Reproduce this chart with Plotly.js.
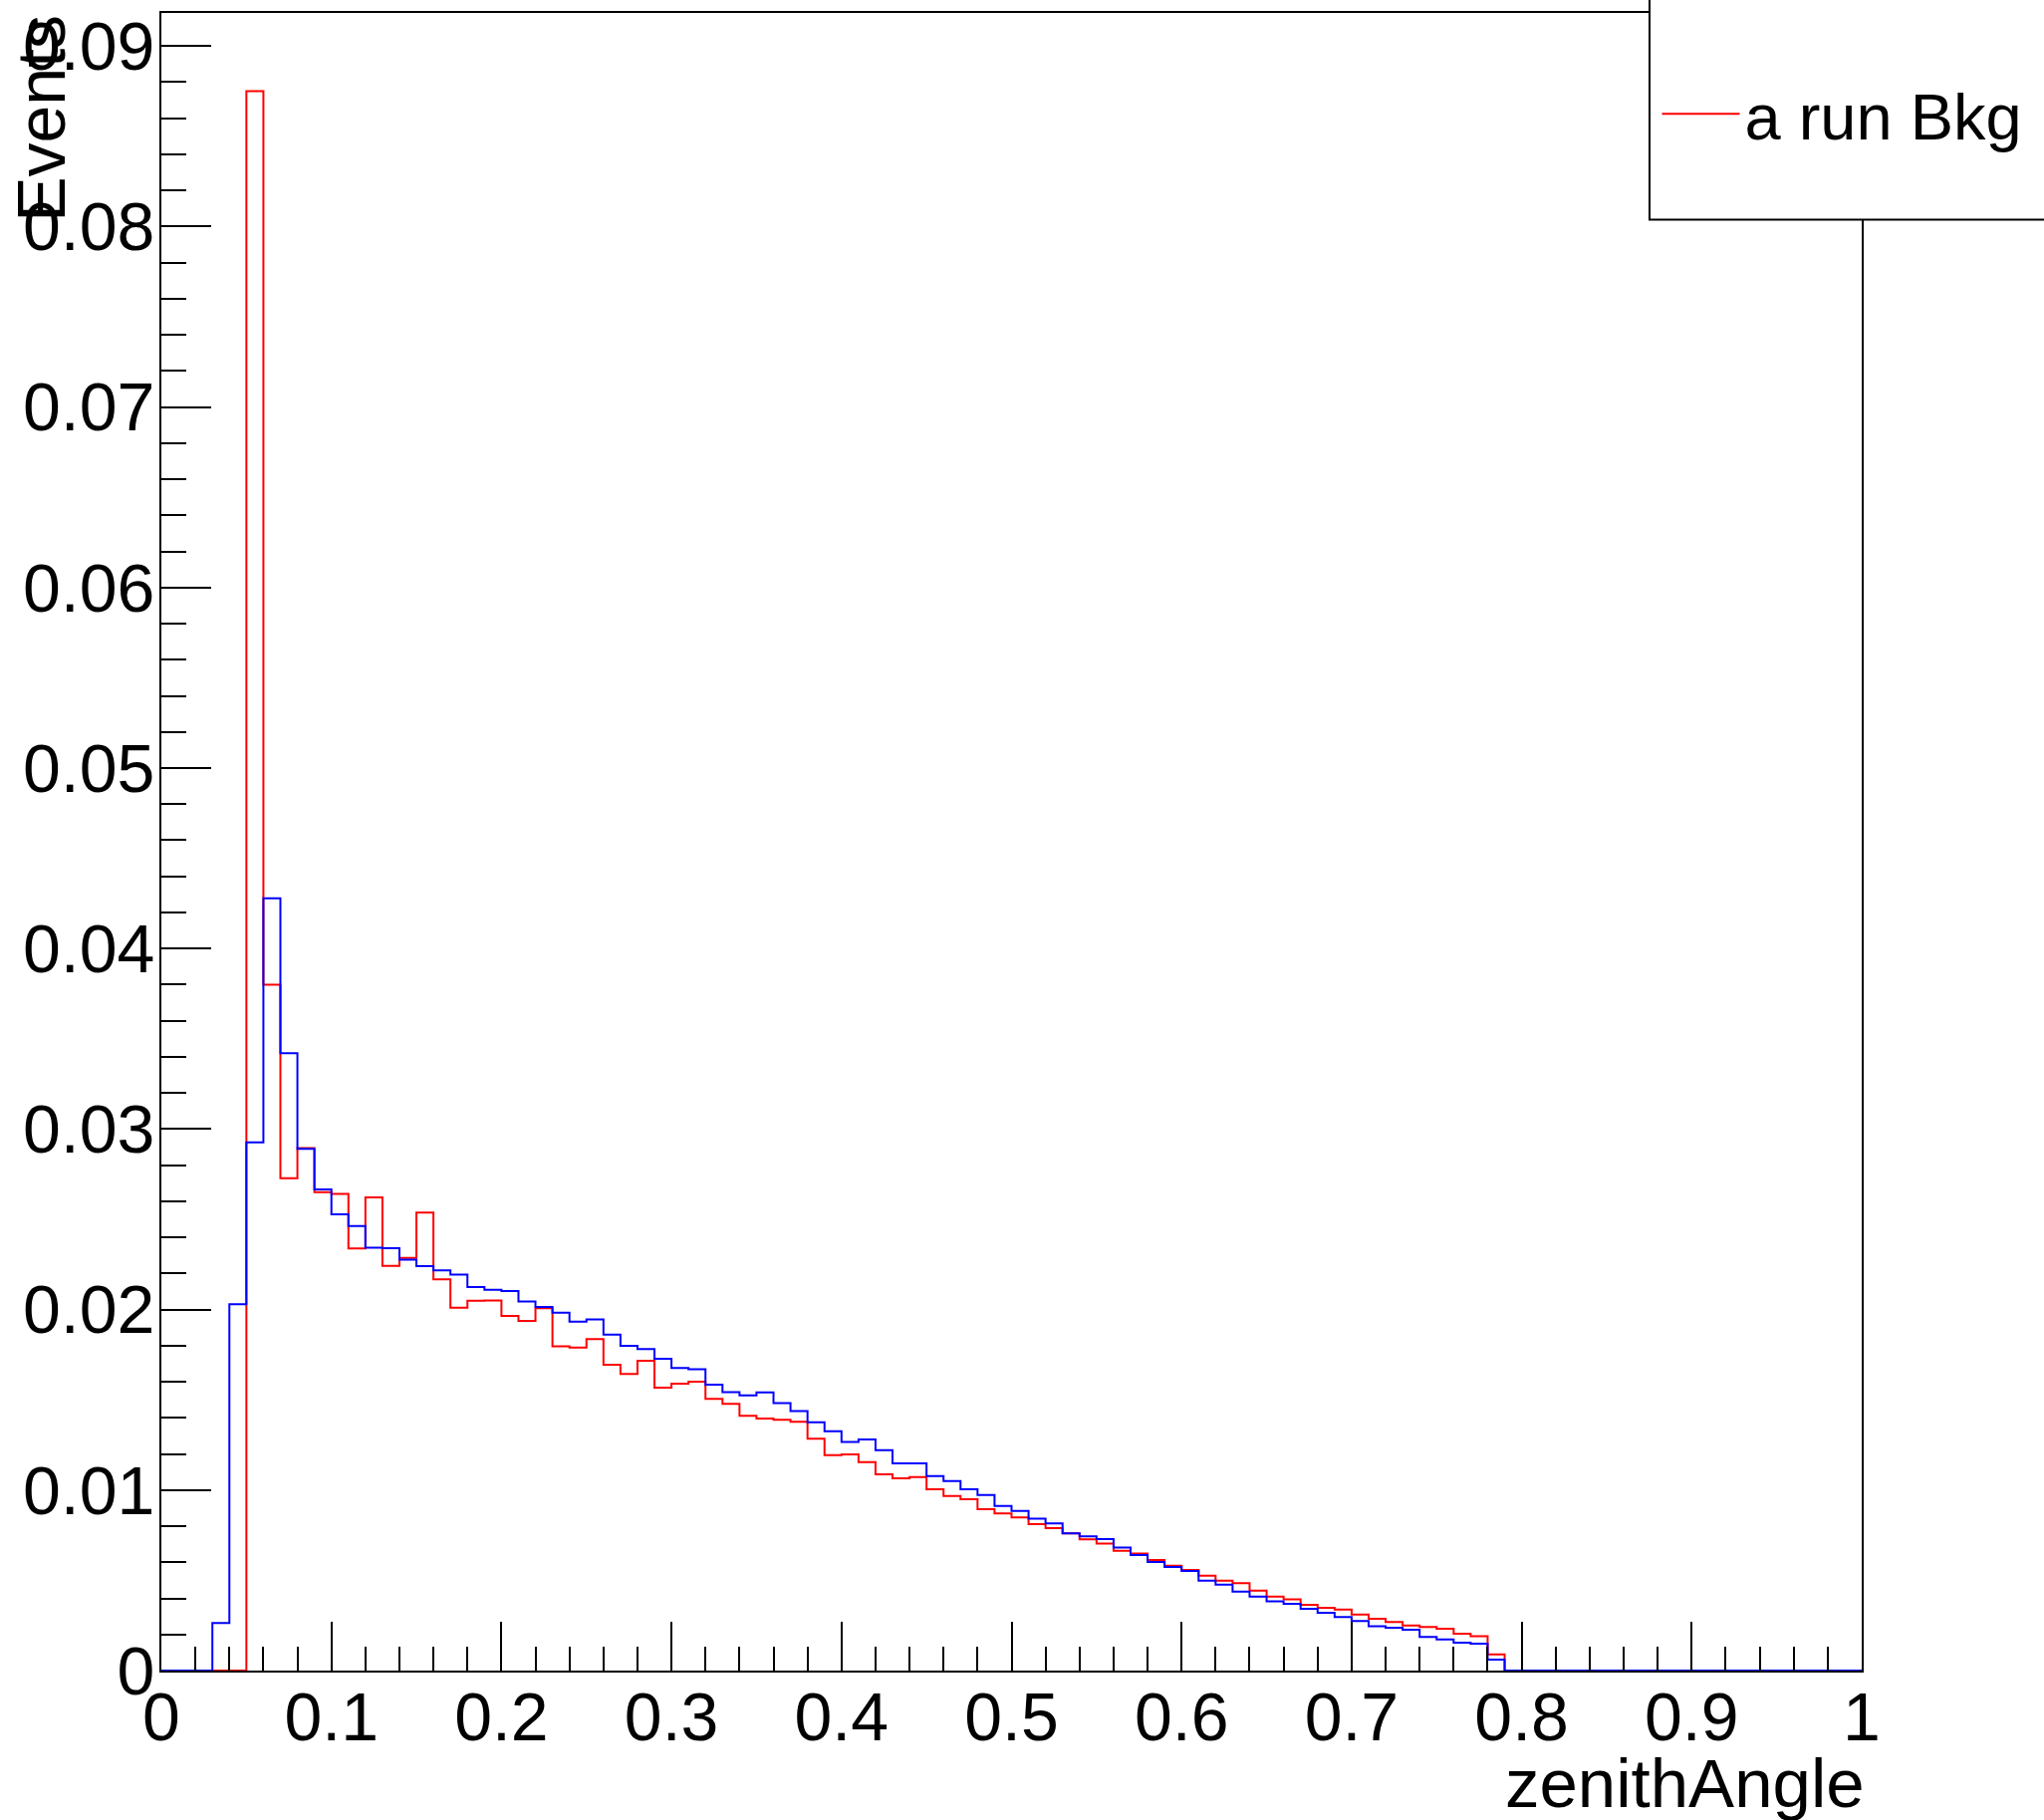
<!DOCTYPE html>
<html>
<head>
<meta charset="utf-8">
<script src="https://cdn.plot.ly/plotly-3.0.1.min.js"></script>
<style>html,body{margin:0;padding:0;background:#fff;}#chart{width:2052px;height:1827px;}</style>
</head>
<body>
<div id="chart"></div>
<script>
// Histogram binning: 100 bins on [0, 1]
const binLow = 0.0;
const binWidth = 0.01;

// "a run Bkg" (red) bin contents
const redValues = [
  0, 0, 0, 0, 0, 0.0875, 0.0380, 0.02728, 0.02895, 0.0265,
  0.02641, 0.02338, 0.02621, 0.02242, 0.02286, 0.02537, 0.02167, 0.0201, 0.02049, 0.0205,
  0.01964, 0.01937, 0.02007, 0.01797, 0.0179, 0.01836, 0.01694, 0.01643, 0.01716, 0.01567,
  0.01589, 0.016, 0.01505, 0.01477, 0.01411, 0.01396, 0.01389, 0.01378, 0.01284, 0.01194,
  0.01198, 0.01155, 0.01087, 0.01065, 0.01072, 0.01004, 0.00967, 0.00949, 0.00894, 0.0087,
  0.00848, 0.00811, 0.00789, 0.0076, 0.00727, 0.00703, 0.00664, 0.00649, 0.00613, 0.00581,
  0.00557, 0.00526, 0.00498, 0.00484, 0.00443, 0.0041, 0.00394, 0.00364, 0.00348, 0.00338,
  0.00311, 0.00287, 0.00269, 0.0025, 0.00241, 0.00232, 0.00204, 0.0019, 0.0009, 0,
  0, 0, 0, 0, 0, 0, 0, 0, 0, 0,
  0, 0, 0, 0, 0, 0, 0, 0, 0, 0
];

// second (blue) histogram bin contents
const blueValues = [
  0, 0, 0, 0.00263, 0.0203, 0.02926, 0.04278, 0.0342, 0.0289, 0.02665,
  0.02527, 0.02463, 0.02343, 0.0234, 0.02277, 0.0224, 0.02217, 0.02194, 0.02125, 0.0211,
  0.02102, 0.02045, 0.02014, 0.01983, 0.01933, 0.01946, 0.01861, 0.01799, 0.01781, 0.01727,
  0.01676, 0.0167, 0.01584, 0.01543, 0.01525, 0.01541, 0.01482, 0.01437, 0.01376, 0.01326,
  0.01266, 0.0128, 0.01221, 0.01148, 0.01148, 0.01078, 0.0105, 0.01004, 0.00973, 0.00912,
  0.00885, 0.00842, 0.00815, 0.0076, 0.00744, 0.00728, 0.00682, 0.0064, 0.00602, 0.00574,
  0.00552, 0.00498, 0.00476, 0.00438, 0.0041, 0.00384, 0.0037, 0.00342, 0.0032, 0.00296,
  0.00274, 0.00246, 0.00237, 0.00226, 0.00186, 0.00173, 0.00155, 0.00149, 0.00061, 0,
  0, 0, 0, 0, 0, 0, 0, 0, 0, 0,
  0, 0, 0, 0, 0, 0, 0, 0, 0, 0
];

const xTitle = "zenithAngle";
const yTitle = "Events";
const redName = "a run Bkg";
const blueName = "signal";

function stepXY(values) {
  const xs = [], ys = [];
  for (let i = 0; i < values.length; i++) {
    xs.push(binLow + i * binWidth);
    ys.push(values[i]);
  }
  xs.push(binLow + values.length * binWidth);
  ys.push(values[values.length - 1]);
  return {xs, ys};
}

const r = stepXY(redValues);
const b = stepXY(blueValues);

const FONT = "Liberation Sans, Arial, Helvetica, sans-serif";

const traces = [
  {x: r.xs, y: r.ys, type: 'scatter', mode: 'lines', name: redName,
   line: {shape: 'hv', color: '#ff0000', width: 2}, showlegend: true, hoverinfo: 'x+y'},
  {x: b.xs, y: b.ys, type: 'scatter', mode: 'lines', name: blueName,
   line: {shape: 'hv', color: '#0000ff', width: 2}, showlegend: false, hoverinfo: 'x+y'}
];

const layout = {
  width: 2052, height: 1827,
  margin: {l: 162, r: 183, t: 13, b: 150, pad: 0},
  paper_bgcolor: '#ffffff', plot_bgcolor: '#ffffff',
  font: {family: FONT, size: 68, color: '#000000'},
  showlegend: true,
  legend: {
    x: 0.8796, xanchor: 'left', y: 0.939, yanchor: 'middle',
    bgcolor: 'rgba(0,0,0,0)', borderwidth: 0,
    font: {family: FONT, size: 65, color: '#000'},
    itemwidth: 78
  },
  xaxis: {
    range: [0, 1], dtick: 0.1, tick0: 0,
    showgrid: false, zeroline: false,
    showline: true, linecolor: '#000', linewidth: 2, mirror: true,
    ticks: 'inside', ticklen: 49, tickwidth: 2, tickcolor: '#000',
    minor: {dtick: 0.02, ticks: 'inside', ticklen: 24, tickwidth: 2, tickcolor: '#000', showgrid: false},
    tickfont: {family: FONT, size: 68, color: '#000'},
    ticklabelstandoff: -14,
    fixedrange: true
  },
  yaxis: {
    range: [0, 0.09183], dtick: 0.01, tick0: 0,
    showgrid: false, zeroline: false,
    showline: true, linecolor: '#000', linewidth: 2, mirror: true,
    ticks: 'inside', ticklen: 50, tickwidth: 2, tickcolor: '#000',
    minor: {dtick: 0.002, ticks: 'inside', ticklen: 25, tickwidth: 2, tickcolor: '#000', showgrid: false},
    tickfont: {family: FONT, size: 68, color: '#000'},
    ticklabelstandoff: -9,
    fixedrange: true
  },
  shapes: [
    {type: 'rect', xref: 'paper', yref: 'paper', x0: 0.8752, x1: 1.2, y0: 0.8753, y1: 1.1,
     line: {color: '#000', width: 2}, fillcolor: '#ffffff', layer: 'above'}
  ],
  annotations: [
    {text: xTitle, xref: 'paper', yref: 'paper', x: 1.003, xanchor: 'right', y: -0.068, yanchor: 'middle',
     showarrow: false, font: {family: FONT, size: 69, color: '#000'}},
    {text: yTitle, xref: 'paper', yref: 'paper', x: -0.071, xanchor: 'center', y: 1.0, yanchor: 'top',
     textangle: -90, showarrow: false, font: {family: FONT, size: 68, color: '#000'}}
  ]
};

Plotly.newPlot('chart', traces, layout, {displayModeBar: false, staticPlot: true});
</script>
</body>
</html>
